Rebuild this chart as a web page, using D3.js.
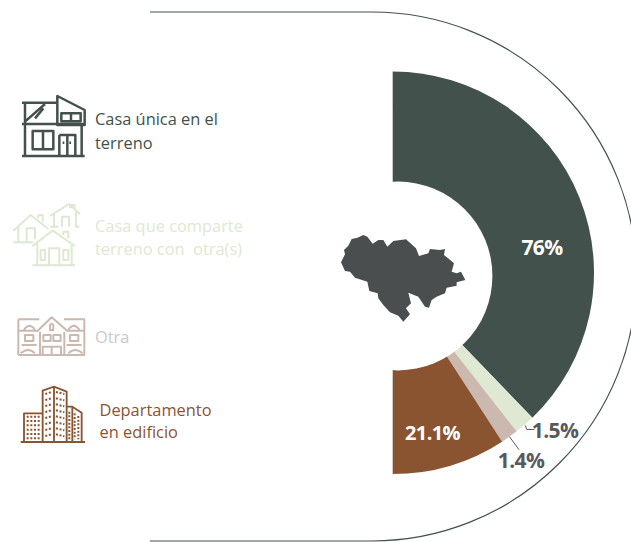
<!DOCTYPE html>
<html><head><meta charset="utf-8">
<script src="https://cdn.jsdelivr.net/npm/d3@7/dist/d3.min.js"></script>
<style>html,body{margin:0;padding:0;background:#fff;overflow:hidden}svg{display:block}</style>
</head><body><div id="chart"></div>
<script>
const categories = ["Casa única en el terreno","Casa que comparte terreno con otra(s)","Otra","Departamento en edificio"];
const values = [76,1.5,1.4,21.1];
// the picture does not draw the slices to the printed values: shares as measured on the arc
const drawnShares = [75.6,3.3,2.8,18.3];
const valueLabels = ["76%","1.5%","1.4%","21.1%"];
const colors = ["#43514c","#dfe8d2","#cbb9b0","#8b5431"];

const W=631,H=542,cx=392.7,cy=272.7,R=201.3;
const hole={x:398,y:276,r:94.4};
const FONT="'Open Sans','Noto Sans',sans-serif";
const svg=d3.select("#chart").append("svg").attr("width",W).attr("height",H);

// outline
const oc={x:372,y:276.5,r:264.5};
svg.append("path").attr("fill","none").attr("stroke","#43514c").attr("stroke-width",1.2)
  .attr("d",`M150 ${oc.y-oc.r} H${oc.x} A${oc.r} ${oc.r} 0 0 1 ${oc.x} ${oc.y+oc.r} H150`);

// donut: pie with an off-centre white hole, as in the picture
const pie=d3.pie().sort(null).startAngle(0).endAngle(Math.PI)(drawnShares);
const arc=d3.arc().innerRadius(0).outerRadius(R);
const g=svg.append("g").attr("transform",`translate(${cx},${cy})`);
g.selectAll("path").data(pie).join("path").attr("d",arc).attr("fill",(d,i)=>colors[i]);
svg.append("circle").attr("cx",hole.x).attr("cy",hole.y).attr("r",hole.r).attr("fill","#fff");

// leader lines, anchored on the slices
const edge=(d,rad)=>{const a=(d.startAngle+d.endAngle)/2;return [rad*Math.sin(a),-rad*Math.cos(a)];};
const l15=edge(pie[1],R+1), l14=edge(pie[2],R);
g.append("path").attr("fill","none").attr("stroke","#58595b").attr("stroke-width",1)
  .attr("d",`M${l15[0]} ${l15[1]} l1.5 4 h7.5`);
g.append("path").attr("fill","none").attr("stroke","#58595b").attr("stroke-width",1)
  .attr("d",`M${l14[0]} ${l14[1]} l9.5 13`);

// value labels
const labelPos=[[542,255],[555,438],[521,468],[432.5,440]];
const labelFill=["#fff","#58595b","#58595b","#fff"];
const labelSize=[21,21,21,20];
svg.selectAll("text.v").data(valueLabels).join("text").attr("class","v")
  .attr("x",(d,i)=>labelPos[i][0]).attr("y",(d,i)=>labelPos[i][1])
  .attr("text-anchor","middle").attr("font-family",FONT).attr("font-weight",700)
  .attr("letter-spacing",-0.6)
  .attr("font-size",(d,i)=>labelSize[i]).attr("fill",(d,i)=>labelFill[i]).text(d=>d);

// legend text
const legendLines=[["Casa única en el","terreno"],["Casa que comparte","terreno con  otra(s)"],["Otra"],["Departamento","en edificio"]];
const legendX=[95,95,95,99.5];
const legendY=[[125,149],[232,255],[343],[416,438]];
const legendFill=["#43514c","#dfe8d2","#c9c9c9","#8b5431"];
legendLines.forEach((ls,i)=>ls.forEach((t,j)=>{
  svg.append("text").attr("x",legendX[i]).attr("y",legendY[i][j])
    .style("white-space","pre").attr("font-family",FONT).attr("font-size",16.4)
    .attr("fill",legendFill[i]).text(t);
}));

// map silhouette
const mapPts=[[33,112],[45,88],[42,75],[55,62],[65,42],[82,38],[100,30],[112,35],[128,56],[145,45],[160,45],[172,65],[190,48],[228,43],[258,70],[267,93],[295,85],[300,72],[330,75],[345,72],[342,90],[358,103],[372,115],[365,140],[380,145],[393,140],[406,165],[380,172],[380,182],[350,188],[345,205],[320,215],[305,225],[297,248],[285,245],[265,215],[235,203],[243,235],[228,250],[240,268],[220,290],[205,272],[180,262],[160,240],[145,220],[143,205],[118,198],[112,170],[75,158],[60,140],[45,138]];
svg.append("path").attr("transform","translate(330,225) scale(0.3333)").attr("fill","#4a4e4e")
  .attr("d","M"+mapPts.join("L")+"Z");

// icons
function icon(tx,ty,color,sw,d,dots){
  const i=svg.append("g").attr("transform",`translate(${tx},${ty}) scale(0.3333)`)
    .attr("fill","none").attr("stroke",color).attr("stroke-width",sw).attr("stroke-linejoin","round");
  i.append("path").attr("d",d);
  if(dots) dots.forEach(p=>i.append("path").attr("d",p).attr("stroke-width",sw*1.1).attr("stroke-dasharray","6 5"));
}
icon(0,80,"#43514c",7.5,
 "M66 68H172M172 48L254 90V135H172ZM75 68V130M66 132H254M184 100H242V124H184ZM213 100V124M75 125L135 72M105 115L130 85M75 135V225M245 135V225M98 153H160V208H98ZM129 153V208M178 165H226V225M178 165V225M202 165V225M188 188H193M208 188H213M66 228H254");
icon(0,80,"#dfe8d2",6,
 "M40 452L92 405L145 447M55 440V487M40 487H100M115 415V405H128V425M80 487V445H105V478M150 408L207 372L240 402M162 400V440M150 440H175M228 395V440H238M186 440V410H207V440M210 385V375H224V390M97 498L158 452L225 498M112 490V555M215 490V555M97 556H225M122 510H135V540H122ZM190 510H205V540H190ZM147 555V505H178V555M190 465V455H205V475");
icon(0,300,"#cbb9b0",6,
 "M55 58H118M192 58H255M55 58V165M253 58V165M55 165H255M110 95L155 52L205 95M72 90Q88 65 105 90M205 90Q222 65 238 90M55 92H110M205 92H253M75 105H100V123H75ZM130 105H152V123H130ZM160 105H182V123H160ZM210 105H235V123H210ZM120 95V165M193 95V165M128 165V140H183V165M155 140V165M150 90V75Q155 68 160 75V90ZM62 160Q85 140 105 160M205 160Q225 140 248 160M65 135H110M200 135H245");
icon(0,300,"#8b5431",5.5,
 "M62 426H255M72 425V340H128M128 425V272L162 260L200 275V425M162 260V425M200 320H217L245 338V425M217 322V425",
 ["M80 350H122","M80 363H122","M80 376H122","M80 389H122","M80 402H122","M80 415H122",
  "M136 282L155 276","M136 300L155 295","M136 318L155 313","M136 336L155 331","M136 354L155 349","M136 372L155 367","M136 390L155 385","M136 408L155 403",
  "M168 276L193 282","M168 295L193 301","M168 313L193 319","M168 331L193 337","M168 349L193 355","M168 367L193 373","M168 385L193 391","M168 403L193 409",
  "M208 335V418","M224 340V418","M235 348V418"]);
</script></body></html>
